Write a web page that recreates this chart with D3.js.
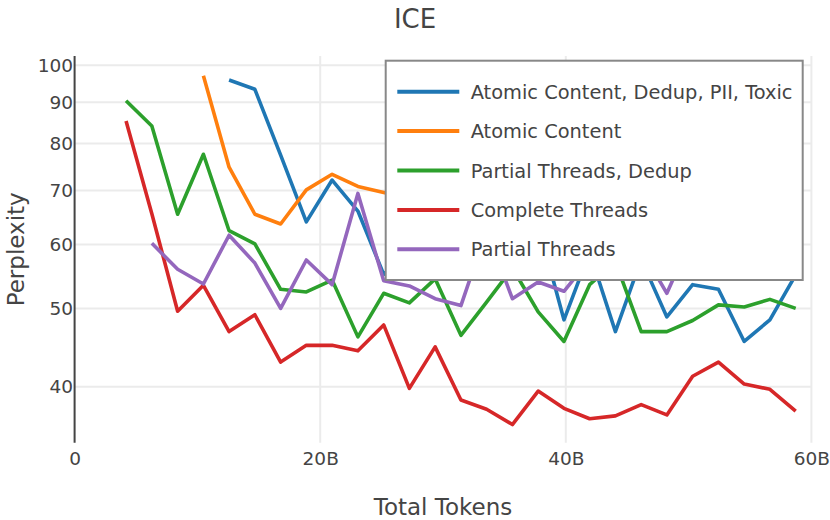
<!DOCTYPE html>
<html>
<head>
<meta charset="utf-8">
<script src="https://cdn.jsdelivr.net/npm/d3@7"></script>
<style>
  html, body { margin: 0; padding: 0; background: #fff; }
  svg { display: block; font-family: "DejaVu Sans", sans-serif; }
</style>
</head>
<body>
<svg id="chart" width="830" height="520"></svg>
<script>
// ---- data ----
const tokensB = [4.19, 6.29, 8.39, 10.49, 12.58, 14.68, 16.78, 18.87, 20.97, 23.07, 25.17, 27.26, 29.36, 31.46,
                 33.55, 35.65, 37.75, 39.85, 41.94, 44.04, 46.14, 48.23, 50.33, 52.43, 54.53, 56.62, 58.72];

const seriesNames = ["Atomic Content, Dedup, PII, Toxic", "Atomic Content", "Partial Threads, Dedup",
                     "Complete Threads", "Partial Threads"];

const atomicDedupPiiToxic = [null, null, null, null, 95.9, 93.4, 77.4, 64.0, 72.1, 66.0, 55.1, 59.0, 57.5, 61.0,
                             58.0, 60.5, 63.5, 48.4, 58.7, 46.8, 57.5, 48.8, 53.5, 52.8, 45.5, 48.4, 55.0];
const atomicContent = [null, null, null, 97.1, 74.8, 65.4, 63.6, 70.1, 73.3, 70.8, 69.6, 68.5, null, null,
                       null, null, null, null, null, null, null, null, null, null, null, null, null];
const partialThreadsDedup = [90.4, 84.1, 65.4, 77.6, 62.4, 60.1, 52.8, 52.4, 54.2, 46.1, 52.2, 50.8, 54.4, 46.3,
                             50.9, 56.1, 49.5, 45.5, 53.5, 57.1, 46.8, 46.8, 48.3, 50.5, 50.2, 51.3, 50.0];
const completeThreads = [85.3, 65.5, 49.6, 53.4, 46.8, 49.1, 42.9, 45.0, 45.0, 44.3, 47.7, 39.8, 44.8, 38.5,
                         37.5, 35.9, 39.5, 37.6, 36.5, 36.8, 38.0, 36.9, 41.2, 42.9, 40.3, 39.7, 37.3];
const partialThreads = [null, 60.2, 55.9, 53.6, 61.6, 56.9, 50.0, 57.4, 53.5, 69.4, 54.1, 53.3, 51.4, 50.4,
                        62.5, 51.4, 53.9, 52.5, 57.5, 56.0, 59.2, 52.2, 61.6, null, null, null, null];

const seriesValues = [atomicDedupPiiToxic, atomicContent, partialThreadsDedup, completeThreads, partialThreads];
const seriesColors = ["#1f77b4", "#ff7f0e", "#2ca02c", "#d62728", "#9467bd"];

const xTickValues = [0, 20, 40, 60];
const xTickLabels = ["0", "20B", "40B", "60B"];
const yTickValues = [40, 50, 60, 70, 80, 90, 100];

const titleText = "ICE";
const xTitle = "Total Tokens";
const yTitle = "Perplexity";

// ---- layout ----
const L = 74.6, R = 811.4, T = 56, B = 442.7;
const textColor = "#444";
const fontFam = "'DejaVu Sans', sans-serif";

const svg = d3.select("#chart");
const x = d3.scaleLinear().domain([0, 60]).range([L, R]);
const y = d3.scaleLog().domain([34.09, 102.7]).range([B, T]);

// grid
const grid = svg.append("g");
grid.selectAll("line.h").data(yTickValues).join("line")
  .attr("x1", L).attr("x2", R)
  .attr("y1", d => y(d)).attr("y2", d => y(d))
  .attr("stroke", "#ebebeb").attr("stroke-width", 2);
grid.selectAll("line.v").data(xTickValues.filter(d => d > 0)).join("line")
  .attr("x1", d => x(d)).attr("x2", d => x(d))
  .attr("y1", T).attr("y2", B)
  .attr("stroke", "#ebebeb").attr("stroke-width", 2);

// axes (labels)
const yAxis = svg.append("g").attr("transform", `translate(${L},0)`)
  .call(d3.axisLeft(y).tickValues(yTickValues).tickFormat(d3.format("d")).tickSize(0).tickPadding(1.5));
yAxis.select(".domain").remove();
yAxis.selectAll("text").attr("fill", textColor).style("font-size", "18.5px").style("font-family", fontFam);

const xAxis = svg.append("g").attr("transform", `translate(0,${B})`)
  .call(d3.axisBottom(x).tickValues(xTickValues).tickFormat((d, i) => xTickLabels[i]).tickSize(0).tickPadding(9.5));
xAxis.select(".domain").remove();
xAxis.selectAll("text").attr("fill", textColor).style("font-size", "18.5px").style("font-family", fontFam);

// y axis line
svg.append("line").attr("x1", L).attr("x2", L).attr("y1", T).attr("y2", B)
  .attr("stroke", "#444").attr("stroke-width", 2);

// lines
const line = d3.line()
  .defined(d => d.v != null)
  .x(d => x(d.t))
  .y(d => y(d.v));

const lineG = svg.append("g");
seriesValues.forEach((vals, si) => {
  const pts = tokensB.map((t, i) => ({ t, v: vals[i] }));
  lineG.append("path")
    .attr("d", line(pts))
    .attr("fill", "none")
    .attr("stroke", seriesColors[si])
    .attr("stroke-width", 3.6)
    .attr("stroke-linejoin", "round");
});

// legend
const lg = svg.append("g");
lg.append("rect").attr("x", 385.7).attr("y", 60.7).attr("width", 417).attr("height", 219.3)
  .attr("fill", "#fff").attr("stroke", "#888").attr("stroke-width", 2);
seriesNames.forEach((name, i) => {
  const yy = 91.7 + i * 39.4;
  lg.append("line").attr("x1", 397.3).attr("x2", 459.3).attr("y1", yy).attr("y2", yy)
    .attr("stroke", seriesColors[i]).attr("stroke-width", 4);
  lg.append("text").attr("x", 470.7).attr("y", yy + 7)
    .attr("fill", textColor).style("font-size", "19.4px").style("font-family", fontFam).text(name);
});

// titles
svg.append("text").attr("x", 415).attr("y", 28).attr("text-anchor", "middle")
  .attr("fill", textColor).style("font-size", "26px").style("font-family", fontFam).text(titleText);
svg.append("text").attr("x", (L + R) / 2).attr("y", 515).attr("text-anchor", "middle")
  .attr("fill", textColor).style("font-size", "23px").style("font-family", fontFam).text(xTitle);
svg.append("text").attr("transform", `translate(24,${(T + B) / 2}) rotate(-90)`).attr("text-anchor", "middle")
  .attr("fill", textColor).style("font-size", "23px").style("font-family", fontFam).text(yTitle);
</script>
</body>
</html>
